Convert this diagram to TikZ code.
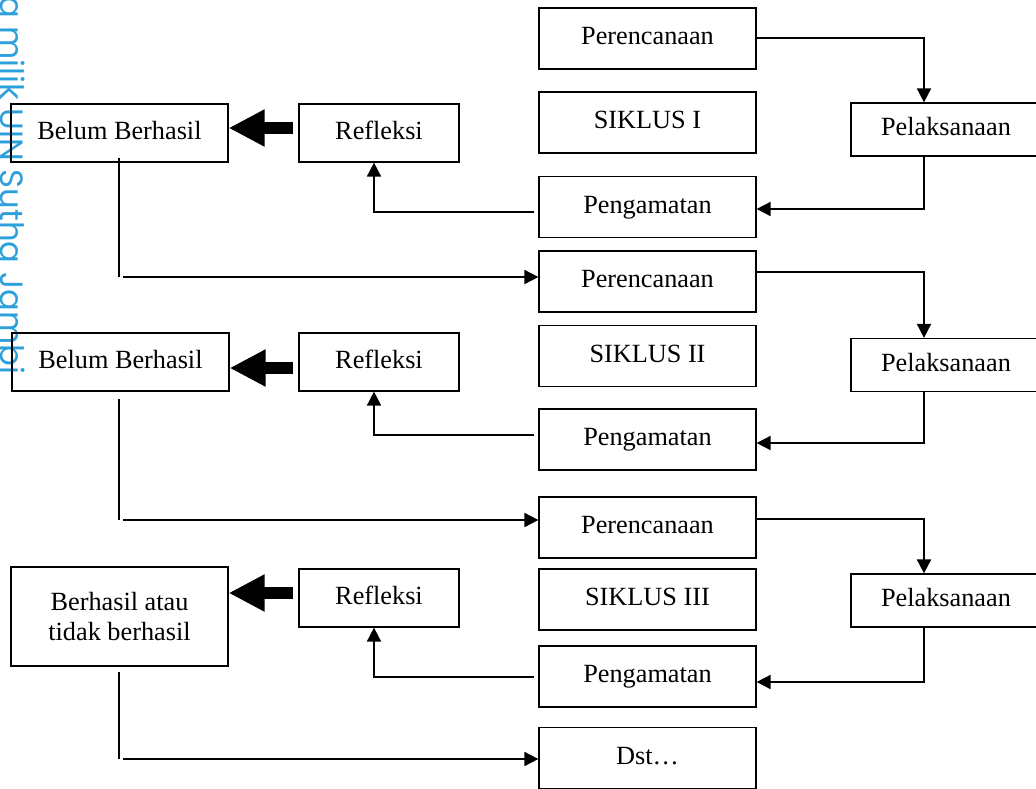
\documentclass[tikz,border=0pt]{standalone}
\usepackage{fontspec}
\setmainfont{Liberation Serif}
\newfontfamily\wmfont{Poppins}
\usetikzlibrary{arrows.meta}
\definecolor{wmblue}{RGB}{45,160,220}
\begin{document}
\begin{tikzpicture}[x={(0.75pt,0)}, y={(0,-0.75pt)},
  box/.style={draw, line width=0.9pt, inner sep=0pt,
    font=\fontsize{19.7}{22.5}\selectfont, text height=14pt, text depth=5pt},
  wide/.style={minimum width=162.75pt, minimum height=45.75pt},
  pel/.style={minimum width=142.5pt, minimum height=39.75pt},
  side/.style={minimum width=162.75pt, minimum height=43.5pt},
  refl/.style={minimum width=120pt, minimum height=43.5pt},
  arr/.style={line width=1.3pt, -{Triangle[length=10.5pt,width=10.5pt]}},
  ln/.style={line width=1.1pt},
  fat/.style={line width=9pt, -{Triangle[length=27pt,width=26pt]}}]
\useasboundingbox (0,0) rectangle (1036,789);
\clip (0,0) rectangle (1036,789);

% watermark
\node[font=\wmfont\fontsize{24.2}{24.2}\selectfont, text=wmblue, rotate=-90,
  anchor=base west, inner sep=0pt] (wm) at (1,-4) {a milik UIN Sutha Jambi};

% column coordinates
\coordinate (cR) at (924,0);
\coordinate (cRef) at (374,0);
\coordinate (k1) at (119,277);
\coordinate (k2) at (119,520);
\coordinate (k3) at (119,759);

% cycle I
\node[box, wide] (P1) at (647.5,38.5) {Perencanaan};
\node[box, wide] (S1) at (647.5,122.5) {SIKLUS I};
\node[box, pel] (L1) at (946,129.5) {Pelaksanaan};
\node[box, wide] (G1) at (647.5,207) {Pengamatan};
\node[box, side] (B1) at (119.5,133) {Belum Berhasil};
\node[box, refl] (R1) at (379,133) {Refleksi};

% cycle II
\node[box, wide] (P2) at (647.5,281.5) {Perencanaan};
\node[box, wide] (S2) at (647.5,356) {SIKLUS II};
\node[box, pel] (L2) at (946,365) {Pelaksanaan};
\node[box, wide] (G2) at (647.5,439.5) {Pengamatan};
\node[box, side] (B2) at (120.5,362) {Belum Berhasil};
\node[box, refl] (R2) at (379,362) {Refleksi};

% cycle III
\node[box, wide] (P3) at (647.5,527.5) {Perencanaan};
\node[box, wide] (S3) at (647.5,599.5) {SIKLUS III};
\node[box, pel] (L3) at (946,600.5) {Pelaksanaan};
\node[box, wide] (G3) at (647.5,676.5) {Pengamatan};
\node[box, minimum width=162.75pt, minimum height=74.25pt, align=center,
  text height=, text depth=] (B3) at (119.5,616.5) {Berhasil atau\\tidak berhasil};
\node[box, refl] (R3) at (379,598) {Refleksi};
\node[box, wide] (D) at (647.5,758) {Dst…};

% cycle I connectors
\draw[arr] ([shift={(0,-0.5)}]P1.east) -| (L1.north -| cR);
\draw[arr] (L1.south -| cR) |- ([shift={(0,2)}]G1.east);
\draw[arr] ([shift={(-4,5)}]G1.west) -| (R1.south -| cRef);
\draw[fat] ([shift={(-5,-5)}]R1.west) -- ([shift={(0,-5)}]R1.west -| B1.east);
\draw[ln] ([shift={(0,-5)}]B1.south -| k1) -- (k1);
\draw[arr] ([shift={(4,0)}]k1) -- (k1 -| P2.west);

% cycle II connectors
\draw[arr] ([shift={(0,-9.5)}]P2.east) -| (L2.north -| cR);
\draw[arr] (L2.south -| cR) |- ([shift={(0,3.5)}]G2.east);
\draw[arr] ([shift={(-4,-4.5)}]G2.west) -| (R2.south -| cRef);
\draw[fat] ([shift={(-5,6)}]R2.west) -- ([shift={(0,6)}]R2.west -| B2.east);
\draw[ln] ([shift={(0,7)}]B2.south -| k2) -- (k2);
\draw[arr] ([shift={(4,0)}]k2) -- (k2 -| P3.west);

% cycle III connectors
\draw[arr] ([shift={(0,-8.5)}]P3.east) -| (L3.north -| cR);
\draw[arr] (L3.south -| cR) |- ([shift={(0,5.5)}]G3.east);
\draw[arr] ([shift={(-4,0.5)}]G3.west) -| (R3.south -| cRef);
\draw[fat] ([shift={(-5,-5)}]R3.west) -- ([shift={(0,-5)}]R3.west -| B3.east);
\draw[ln] ([shift={(0,5)}]B3.south -| k3) -- (k3);
\draw[arr] ([shift={(4,0)}]k3) -- (k3 -| D.west);
\end{tikzpicture}
\end{document}
